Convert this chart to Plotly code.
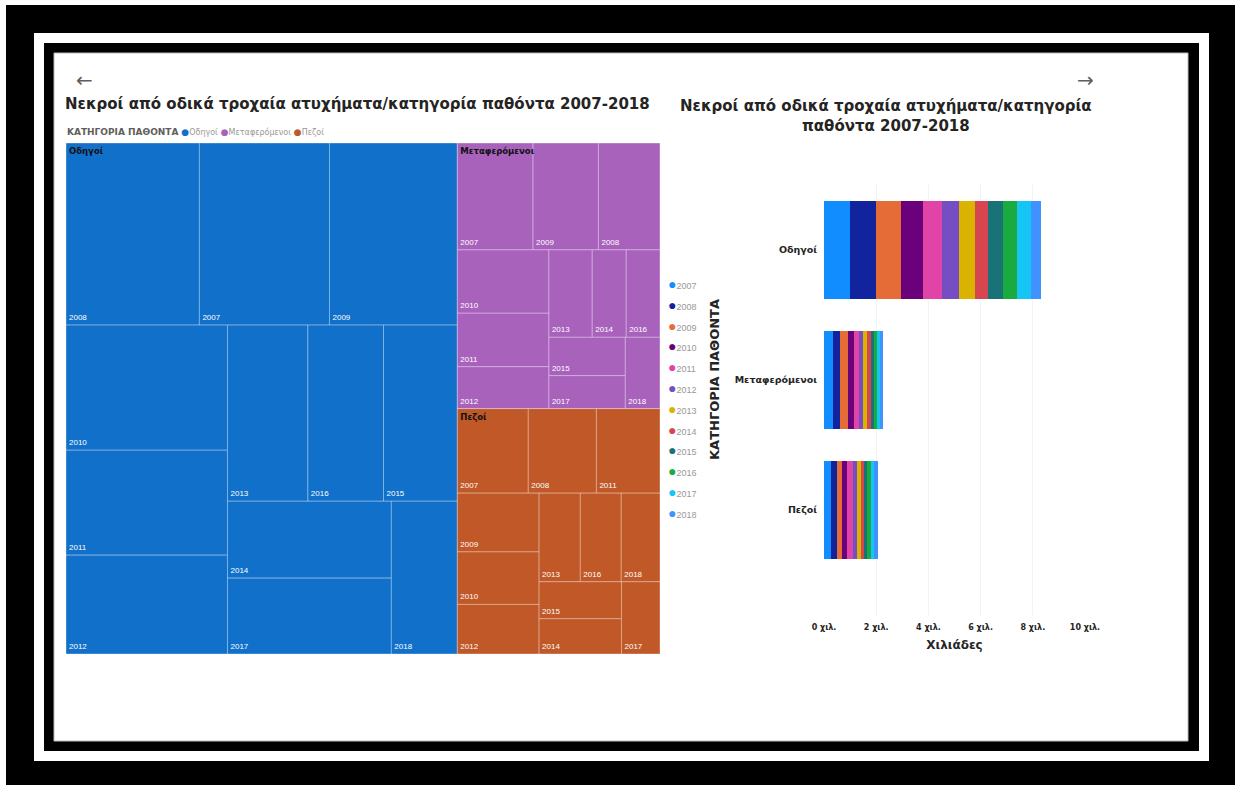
import plotly.graph_objects as go

# ---------------- data ----------------
years = ["2007", "2008", "2009", "2010", "2011", "2012",
         "2013", "2014", "2015", "2016", "2017", "2018"]
categories = ["Οδηγοί", "Μεταφερόμενοι", "Πεζοί"]
drivers = [987, 1012, 970, 842, 706, 665, 590, 525, 542, 555, 518, 420]
passengers = [337, 274, 291, 242, 204, 160, 158, 124, 122, 123, 105, 103]
pedestrians = [250, 240, 200, 179, 224, 169, 152, 121, 127, 151, 116, 143]
year_colors = ["#118DFF", "#12239E", "#E66C37", "#6B007B", "#E044A7", "#744EC2",
               "#D9B300", "#D64550", "#197278", "#1AAB40", "#15C6F4", "#4092FF"]
cat_colors = ["#1170C9", "#A862BC", "#C05828"]
x_tickvals = [0, 2000, 4000, 6000, 8000, 10000]
x_ticktext = ["0 χιλ.", "2 χιλ.", "4 χιλ.", "6 χιλ.", "8 χιλ.", "10 χιλ."]
title_text = "Νεκροί από οδικά τροχαία ατυχήματα/κατηγορία παθόντα 2007-2018"
title_text_2 = "Νεκροί από οδικά τροχαία ατυχήματα/κατηγορία<br>παθόντα 2007-2018"
legend_title = "ΚΑΤΗΓΟΡΙΑ ΠΑΘΟΝΤΑ"

series = [drivers, passengers, pedestrians]
W, H = 1235, 785
FONT = "Liberation Sans"
TFONT = "DejaVu Sans"
SQ_RATIO = 1.618

def px(x):
    return x / W

def py(y):
    return 1 - y / H

# ---------------- treemap (years inside categories) ----------------
ids, labels, parents, values, colors, text_leaf = [], [], [], [], [], []
for c, col in zip(categories, cat_colors):
    ids.append(c); labels.append(c); parents.append(""); values.append(0)
    colors.append(col); text_leaf.append("")
for c, col, vals in zip(categories, cat_colors, series):
    for y, v in zip(years, vals):
        ids.append(c + "-" + y); labels.append(y); parents.append(c); values.append(v)
        colors.append(col); text_leaf.append(y)

tm_domain = dict(x=[px(66), px(660)], y=[py(654), py(143)])
tiling = dict(packing="squarify", pad=0, squarifyratio=SQ_RATIO)

fig = go.Figure()
fig.add_trace(go.Treemap(
    ids=ids, labels=labels, parents=parents, values=values,
    branchvalues="remainder", sort=True, domain=tm_domain, tiling=tiling,
    pathbar=dict(visible=False), root=dict(color="rgba(0,0,0,0)"),
    marker=dict(colors=colors, line=dict(color="rgba(255,255,255,0.35)", width=1),
                pad=dict(t=0, l=0, r=0, b=0)),
    text=text_leaf, textinfo="text", textposition="bottom left",
    textfont=dict(family=FONT, size=8, color="white"),
    hovertemplate="%{label}: %{value}<extra></extra>",
))
# category labels: same top-level tiling, drawn transparent on top
fig.add_trace(go.Treemap(
    ids=categories, labels=categories, parents=[""] * len(categories),
    values=[sum(s) for s in series],
    sort=True, domain=tm_domain, tiling=tiling,
    pathbar=dict(visible=False), root=dict(color="rgba(0,0,0,0)"),
    marker=dict(colors=["rgba(0,0,0,0)"] * len(categories), line=dict(width=0),
                pad=dict(t=0, l=0, r=0, b=0)),
    text=["<b>" + c + "</b>" for c in categories], textinfo="text", textposition="top left",
    textfont=dict(family=TFONT, size=8.5, color="#111111"),
    hoverinfo="skip",
))

# ---------------- stacked bar ----------------
for i, (y, col) in enumerate(zip(years, year_colors)):
    fig.add_trace(go.Bar(
        y=categories, x=[s[i] for s in series], orientation="h", name=y,
        marker=dict(color=col, line=dict(width=0)), showlegend=False,
        hovertemplate=y + " %{y}: %{x}<extra></extra>",
    ))

# ---------------- legends as text ----------------
cat_legend = ("<b>" + legend_title + "</b> " + " ".join(
    "<span style='color:%s'>●</span><span style='color:#9a9896;font-size:8px'>%s</span>" % (c, n)
    for n, c in zip(categories, cat_colors)))
year_legend = "<br>".join(
    "<span style='color:%s;font-size:14px'>●</span><span style='font-size:9px'>%s</span>" % (c, y)
    for y, c in zip(years, year_colors))

# ---------------- frame shapes ----------------
shapes = [
    dict(type="rect", xref="paper", yref="paper", x0=px(6), x1=px(1235), y0=py(785), y1=py(5),
         fillcolor="black", line=dict(width=0), layer="below"),
    dict(type="rect", xref="paper", yref="paper", x0=px(34), x1=px(1209), y0=py(761), y1=py(33),
         fillcolor="white", line=dict(width=0), layer="below"),
    dict(type="rect", xref="paper", yref="paper", x0=px(44), x1=px(1199), y0=py(751), y1=py(43),
         fillcolor="black", line=dict(width=0), layer="below"),
    dict(type="rect", xref="paper", yref="paper", x0=px(54), x1=px(1188), y0=py(741), y1=py(53),
         fillcolor="white", line=dict(color="#bbbbbb", width=1), layer="below"),
]

annotations = [
    dict(text="<b>" + title_text + "</b>", x=px(357), y=py(104), xref="paper", yref="paper",
         showarrow=False, font=dict(family=TFONT, size=15, color="#252423"),
         xanchor="center", yanchor="middle"),
    dict(text="<b>" + title_text_2 + "</b>", x=px(886), y=py(116), xref="paper", yref="paper",
         showarrow=False, font=dict(family=TFONT, size=15, color="#252423"),
         xanchor="center", yanchor="middle", align="center"),
    dict(text="←", x=px(74), y=py(66), xref="paper", yref="paper", showarrow=False,
         font=dict(family=TFONT, size=20, color="#605E5C")),
    dict(text="→", x=px(1096), y=py(66), xref="paper", yref="paper", showarrow=False,
         font=dict(family=TFONT, size=20, color="#605E5C")),
    dict(text=cat_legend, x=px(65), y=py(132), xref="paper", yref="paper", showarrow=False,
         xanchor="left", yanchor="middle", font=dict(family=TFONT, size=9, color="#605E5C")),
    dict(text=year_legend, x=px(666), y=py(398), xref="paper", yref="paper", showarrow=False,
         xanchor="left", yanchor="middle", align="left",
         font=dict(family=FONT, size=16, color="#9a9896")),
    dict(text="<b>ΚΑΤΗΓΟΡΙΑ ΠΑΘΟΝΤΑ</b>", x=px(714), y=py(380), xref="paper", yref="paper",
         showarrow=False, textangle=-90, xanchor="center", yanchor="middle",
         font=dict(family=TFONT, size=13, color="#252423")),
]

fig.update_layout(
    width=W, height=H, margin=dict(l=0, r=0, t=0, b=0, autoexpand=False), autosize=False,
    paper_bgcolor="white", plot_bgcolor="rgba(0,0,0,0)",
    barmode="stack", bargap=0.25, showlegend=False,
    font=dict(family=FONT),
    shapes=shapes, annotations=annotations,
    xaxis=dict(domain=[px(824), px(1085)], range=[0, 10000], tickvals=x_tickvals,
               ticktext=x_ticktext, showgrid=True, gridcolor="#f3f3f3", zeroline=False,
               showline=False, ticks="", ticklabelstandoff=6, automargin=False,
               tickfont=dict(family=TFONT, size=8, color="#252423", weight="bold"),
               title=dict(text="Χιλιάδες", standoff=9,
                          font=dict(family=TFONT, size=12, color="#252423", weight="bold"))),
    yaxis=dict(domain=[py(615), py(185)], type="category", categoryorder="array",
               categoryarray=categories, range=[2.808, -0.5], showgrid=False,
               zeroline=False, showline=False, ticks="", ticklabelstandoff=6, automargin=False,
               tickfont=dict(family=TFONT, size=9.5, color="#252423", weight="bold")),
)

fig.write_html("out.html", post_script="document.body.style.margin='0';",
               config={"displayModeBar": False})
